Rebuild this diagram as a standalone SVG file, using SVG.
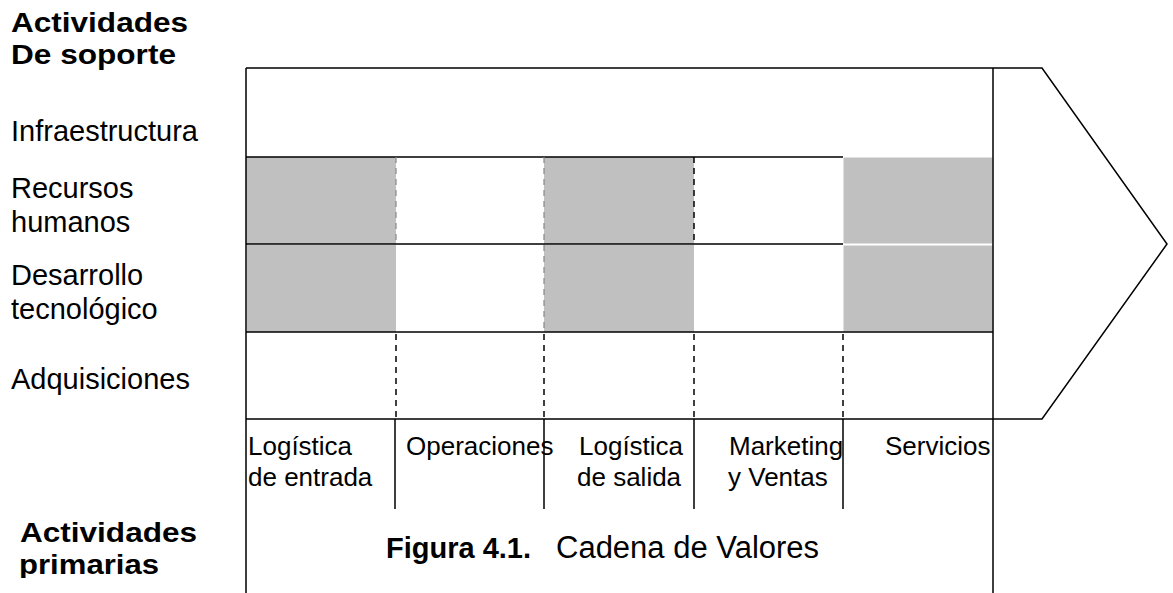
<svg xmlns="http://www.w3.org/2000/svg" width="1173" height="593" viewBox="0 0 1173 593">
<style>
.ln{stroke:#000;stroke-width:1.5;fill:none}
.dg{stroke:#888;stroke-width:1.2;stroke-dasharray:6,5;fill:none}
.db{stroke:#000;stroke-width:1.5;stroke-dasharray:6,5;fill:none}
.gr{fill:#c0c0c0}
.t{font-family:"Liberation Sans",Arial,sans-serif;fill:#000}
.lab{font-size:29px}
.col{font-size:26px}
.hd{font-size:28px;font-weight:bold}
</style>
<defs>
<clipPath id="clipP"><rect x="0" y="0" width="240" height="578"/></clipPath>
</defs>
<rect width="1173" height="593" fill="#fff"/>
<g id="cells">
<rect class="gr" x="246" y="157" width="150" height="87"/>
<rect class="gr" x="247" y="245" width="149" height="87"/>
<rect class="gr" x="544" y="157" width="150" height="87"/>
<rect class="gr" x="544" y="245" width="150" height="87"/>
<rect class="gr" x="843" y="157" width="150" height="87" stroke="#fff" stroke-width="1"/>
<rect class="gr" x="843" y="245" width="150" height="87" stroke="#fff" stroke-width="1"/>
</g>
<g id="connectors">
<path class="ln" d="M246,68 H1042 L1167,244 L1042,419 H246"/>
<path class="ln" d="M246,68 V593 M993,68 V593"/>
<path class="ln" d="M246,157 H843 M246,244 H843 M246,332 H993"/>
<path class="dg" d="M396,157 V244 M544,157 V332"/>
<path class="db" d="M694,157 V244"/>
<path class="db" d="M396,334 V419 M544,334 V419 M694,334 V419 M843,334 V419"/>
<path class="ln" d="M395,419 V509 M544,419 V509 M694,419 V509 M843,419 V509"/>
</g>
<g id="support-labels">
<text class="t hd" x="11" y="32" textLength="177" lengthAdjust="spacingAndGlyphs">Actividades</text>
<text class="t hd" x="11" y="64" textLength="165" lengthAdjust="spacingAndGlyphs">De soporte</text>
<text class="t lab" x="11" y="141">Infraestructura</text>
<text class="t lab" x="11" y="198">Recursos</text>
<text class="t lab" x="11" y="232">humanos</text>
<text class="t lab" x="11" y="285">Desarrollo</text>
<text class="t lab" x="11" y="319">tecnológico</text>
<text class="t lab" x="11" y="389">Adquisiciones</text>
</g>
<g id="primary-title" clip-path="url(#clipP)">
<text class="t hd" x="20" y="542" textLength="177" lengthAdjust="spacingAndGlyphs">Actividades</text>
<text class="t hd" x="19" y="574" textLength="140" lengthAdjust="spacingAndGlyphs">primarias</text>
</g>
<g id="primary-labels">
<text class="t col" x="248" y="455">Logística</text>
<text class="t col" x="248" y="486">de entrada</text>
<text class="t col" x="406" y="455">Operaciones</text>
<text class="t col" x="579" y="455">Logística</text>
<text class="t col" x="577" y="486">de salida</text>
<text class="t col" x="729" y="455">Marketing</text>
<text class="t col" x="728" y="486">y Ventas</text>
<text class="t col" x="885" y="455">Servicios</text>
</g>
<g id="caption">
<text class="t" x="386" y="558" font-size="29"><tspan font-weight="bold">Figura 4.1.</tspan><tspan x="556" font-size="31">Cadena de Valores</tspan></text>
</g>
</svg>
